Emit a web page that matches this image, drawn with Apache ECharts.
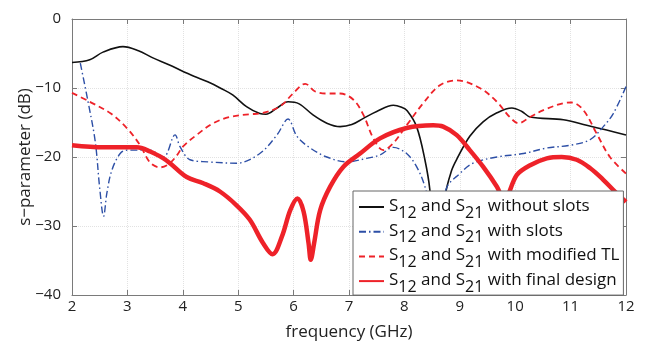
<!DOCTYPE html>
<html>
<head>
<meta charset="utf-8">
<script src="https://cdn.jsdelivr.net/npm/echarts@6/dist/echarts.min.js"></script>
<style>
  html, body { margin: 0; padding: 0; background: #fff; }
  #chart { width: 646px; height: 341px; }
</style>
</head>
<body>
<div id="chart"></div>
<script>
// values (frequency in GHz, level in dB)
const noSlotsFreq = [2.0, 2.32, 2.56, 2.92, 3.2, 3.45, 3.77, 3.95, 4.2, 4.45, 4.7, 4.9, 5.15, 5.39, 5.5, 5.7, 5.9, 6.1, 6.35, 6.6, 6.84, 7.05, 7.26, 7.5, 7.8, 7.95, 8.05, 8.22, 8.37, 8.46, 8.6, 8.74, 8.85, 8.94, 9.18, 9.42, 9.67, 9.94, 10.12, 10.27, 10.87, 11.29, 11.65, 12.0]
const noSlotsVal = [-6.3, -5.9, -4.8, -4.0, -4.6, -5.6, -6.7, -7.4, -8.3, -9.1, -10.1, -11.0, -12.7, -13.7, -13.8, -12.9, -12.0, -12.3, -13.9, -15.1, -15.6, -15.3, -14.4, -13.4, -12.5, -12.8, -13.3, -15.6, -20.4, -24.8, -38.0, -25.5, -22.0, -20.4, -17.0, -14.9, -13.6, -12.9, -13.4, -14.2, -14.6, -15.4, -16.1, -16.8]

const slotsFreq = [2.15, 2.29, 2.42, 2.5, 2.57, 2.63, 2.72, 2.87, 3.0, 3.4, 3.65, 3.86, 3.95, 4.13, 4.45, 4.97, 5.39, 5.7, 5.9, 6.06, 6.3, 6.6, 6.96, 7.32, 7.56, 7.8, 8.04, 8.22, 8.37, 8.58, 8.76, 9.0, 9.24, 9.67, 10.15, 10.57, 10.99, 11.35, 11.59, 11.77, 12.0]
const slotsVal = [-6.4, -12.0, -17.8, -24.5, -28.6, -25.2, -21.9, -19.5, -19.0, -19.0, -20.0, -16.8, -18.5, -20.4, -20.7, -20.9, -19.5, -16.8, -14.5, -17.0, -18.7, -20.0, -20.7, -20.2, -19.7, -18.6, -19.5, -21.4, -24.3, -31.0, -24.5, -22.4, -20.9, -20.0, -19.5, -18.7, -18.3, -17.5, -15.6, -13.7, -9.8]

const modTLFreq = [2.0, 2.32, 2.7, 3.0, 3.23, 3.41, 3.59, 3.75, 3.9, 4.0, 4.25, 4.55, 4.85, 5.21, 5.39, 5.75, 5.99, 6.21, 6.39, 6.6, 6.84, 7.08, 7.26, 7.44, 7.62, 7.8, 8.04, 8.34, 8.64, 8.94, 9.36, 9.67, 9.9, 10.06, 10.27, 10.51, 10.87, 11.02, 11.23, 11.47, 11.71, 12.0]
const modTLVal = [-10.7, -12.0, -13.7, -15.9, -18.3, -20.8, -21.5, -21.0, -19.7, -18.5, -16.8, -15.1, -14.2, -13.8, -13.7, -12.7, -10.8, -9.4, -10.5, -10.8, -10.8, -11.7, -13.9, -17.3, -19.0, -18.0, -15.4, -12.2, -9.6, -8.9, -10.0, -12.0, -14.2, -15.1, -14.2, -13.2, -12.2, -12.1, -13.2, -16.6, -20.0, -22.4]

const finalFreq = [2.0, 2.57, 3.17, 3.41, 3.65, 3.77, 4.07, 4.37, 4.67, 4.97, 5.21, 5.45, 5.62, 5.79, 5.94, 6.07, 6.18, 6.27, 6.31, 6.37, 6.48, 6.66, 6.9, 7.2, 7.56, 8.04, 8.52, 8.7, 8.94, 9.18, 9.42, 9.67, 9.8, 10.03, 10.27, 10.57, 10.84, 11.11, 11.35, 11.59, 11.8, 12.0]
const finalVal = [-18.3, -18.6, -18.6, -19.2, -20.2, -20.9, -22.9, -23.8, -25.0, -27.0, -29.1, -32.5, -34.1, -31.5, -27.7, -26.0, -27.9, -32.5, -34.9, -32.5, -27.7, -24.3, -21.4, -19.5, -17.3, -15.8, -15.4, -15.6, -16.8, -19.0, -21.4, -24.3, -26.2, -22.6, -21.2, -20.2, -20.0, -20.4, -21.6, -23.3, -25.0, -26.5]

const seriesNames = [
  'S12 and S21 without slots',
  'S12 and S21 with slots',
  'S12 and S21 with modified TL',
  'S12 and S21 with final design'
]

const FONT = 'Open Sans'
const pairs = (xs, ys) => xs.map((x, i) => [x, ys[i]])
const minus = v => String(v).replace('-', '\u2212')

// "S12" -> S with subscript 12
function subscriptName (name) {
  return name.split(/(12|21)/).map((part, i) => {
    if (!part) return ''
    return (i % 2 ? '{s|' : '{m|') + part + '}'
  }).join('')
}

const chart = echarts.init(document.getElementById('chart'))

const axisLineStyle = { color: '#7a7a7a', width: 1 }
const gridLine = { show: true, lineStyle: { color: '#e2e2e2', width: 1, type: 'dotted' } }

const option = {
  animation: false,
  grid: { left: 72, right: 20, top: 19, bottom: 46, containLabel: false, outerBoundsMode: 'none' },
  legend: {
    orient: 'vertical',
    left: 353,
    top: 191,
    padding: [3.5, 4, 0, 5],
    itemGap: -1.8,
    itemWidth: 25,
    itemHeight: 25,
    itemTextGap: 2,
    backgroundColor: '#fff',
    borderColor: '#666',
    borderWidth: 1,
    itemStyle: { opacity: 0 },
    data: seriesNames,
    formatter: subscriptName,
    textStyle: {
      rich: {
        m: { fontFamily: FONT, fontSize: 17, lineHeight: 25, verticalAlign: 'top', padding: [3, 0, 0, 0], color: '#111' },
        s: { fontFamily: FONT, fontSize: 16, lineHeight: 25, verticalAlign: 'top', padding: [10.5, 0, 0, 0], color: '#111' }
      }
    }
  },
  xAxis: [{
    type: 'value',
    min: 2,
    max: 12,
    interval: 1,
    name: 'frequency (GHz)',
    nameLocation: 'middle',
    nameGap: 29,
    nameMoveOverlap: false,
    nameTextStyle: { fontFamily: FONT, fontSize: 17, color: '#222' },
    axisLine: { onZero: false, lineStyle: axisLineStyle },
    axisTick: { inside: true, length: 5, lineStyle: axisLineStyle },
    axisLabel: { fontFamily: FONT, fontSize: 15, color: '#222', margin: 4 },
    splitLine: gridLine
  }, {
    type: 'value',
    position: 'top',
    min: 2,
    max: 12,
    interval: 1,
    axisLine: { onZero: false, lineStyle: axisLineStyle },
    axisTick: { inside: true, length: 5, lineStyle: axisLineStyle },
    axisLabel: { show: false },
    splitLine: { show: false }
  }],
  yAxis: [{
    type: 'value',
    min: -40,
    max: 0,
    interval: 10,
    name: 's\u2212parameter (dB)',
    nameLocation: 'middle',
    nameGap: 38,
    nameMoveOverlap: false,
    nameTextStyle: { fontFamily: FONT, fontSize: 17, color: '#222' },
    axisLine: { show: true, onZero: false, lineStyle: axisLineStyle },
    axisTick: { show: true, inside: true, length: 5, lineStyle: axisLineStyle },
    axisLabel: { fontFamily: FONT, fontSize: 15, color: '#222', margin: 11, formatter: minus },
    splitLine: gridLine
  }, {
    type: 'value',
    position: 'right',
    min: -40,
    max: 0,
    interval: 10,
    axisLine: { show: true, onZero: false, lineStyle: axisLineStyle },
    axisTick: { show: true, inside: true, length: 5, lineStyle: axisLineStyle },
    axisLabel: { show: false },
    splitLine: { show: false }
  }],
  series: [{
    name: seriesNames[0],
    type: 'line',
    symbol: 'none',
    smooth: 0.35,
    data: pairs(noSlotsFreq, noSlotsVal),
    lineStyle: { color: '#111', width: 1.6 }
  }, {
    name: seriesNames[1],
    type: 'line',
    symbol: 'none',
    smooth: 0.35,
    data: pairs(slotsFreq, slotsVal),
    lineStyle: { color: '#2d4fa6', width: 1.4, type: [7, 3, 1.5, 3] }
  }, {
    name: seriesNames[2],
    type: 'line',
    symbol: 'none',
    smooth: 0.35,
    data: pairs(modTLFreq, modTLVal),
    lineStyle: { color: '#ee2229', width: 1.8, type: [6, 4] }
  }, {
    name: seriesNames[3],
    type: 'line',
    symbol: 'none',
    smooth: 0.35,
    data: pairs(finalFreq, finalVal),
    lineStyle: { color: '#ee2229', width: 4.5 }
  }]
}

chart.setOption(option)
</script>
</body>
</html>
